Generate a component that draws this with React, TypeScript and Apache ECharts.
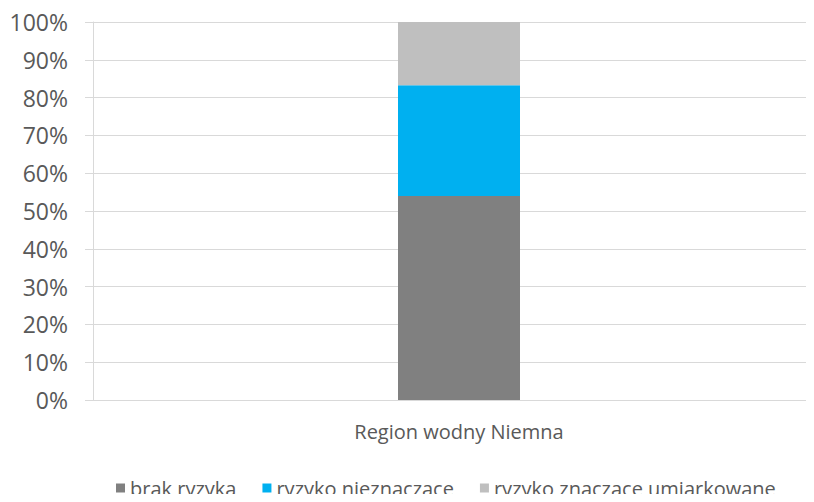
import React, { useEffect, useRef } from "react";
import * as echarts from "echarts";

const categories = ["Region wodny Niemna"];
const seriesNames = ["brak ryzyka", "ryzyko nieznaczące", "ryzyko znaczące umiarkowane"];
const brakRyzyka = [54.0];
const ryzykoNieznaczace = [29.3];
const ryzykoZnaczace = [16.7];
const colors = ["#808080", "#00B0F0", "#BFBFBF"];

export default function App() {
  const ref = useRef<HTMLDivElement>(null);
  useEffect(() => {
    if (!ref.current) return;
    const chart = echarts.init(ref.current, null, { renderer: "svg" });
    const font = "'Open Sans', sans-serif";
    const values = [brakRyzyka, ryzykoNieznaczace, ryzykoZnaczace];
    chart.setOption({
      animation: false,
      textStyle: { fontFamily: font },
      grid: {
        left: 93,
        width: 732,
        top: 22,
        height: 378,
        containLabel: false,
        outerBoundsMode: "none",
      },
      legend: {
        left: 111,
        top: 473,
        icon: "rect",
        itemWidth: 9,
        itemHeight: 9,
        itemGap: 26,
        textStyle: { fontFamily: font, fontSize: 20, color: "#595959" },
        data: seriesNames,
      },
      xAxis: {
        type: "category",
        data: categories,
        axisLine: { show: false },
        axisTick: { show: false },
        axisLabel: { margin: 21, fontSize: 20, color: "#595959", fontFamily: font },
      },
      yAxis: {
        type: "value",
        min: 0,
        max: 100,
        interval: 10,
        axisLine: { show: true, lineStyle: { color: "#d9d9d9", width: 1 } },
        axisTick: { show: true, length: 8, lineStyle: { color: "#d9d9d9" } },
        splitLine: { show: true, lineStyle: { color: "#d9d9d9", width: 1 } },
        axisLabel: {
          margin: 25,
          fontSize: 23,
          color: "#595959",
          fontFamily: font,
          formatter: (v: number) => `${v}%`,
        },
      },
      series: seriesNames.map((name, i) => ({
        name,
        type: "bar",
        stack: "total",
        barWidth: 122,
        itemStyle: { color: colors[i] },
        data: values[i],
      })),
    });
    return () => chart.dispose();
  }, []);
  return <div ref={ref} style={{ width: 814, height: 502, margin: -8 }} />;
}
